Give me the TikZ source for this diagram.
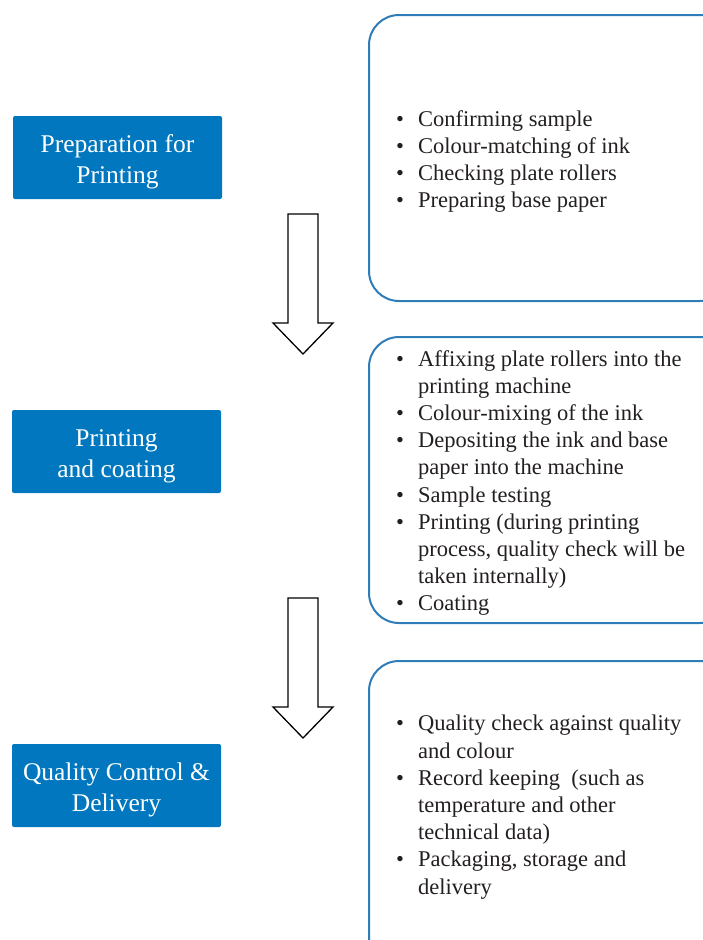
\documentclass[tikz,border=0pt]{standalone}
\usepackage{fontspec}
\setmainfont{Liberation Serif}
\definecolor{stepblue}{RGB}{0,119,190}
\definecolor{frameblue}{RGB}{46,125,184}
\definecolor{inktext}{RGB}{35,31,32}
% bullet line and continuation line of a list entry
\newcommand{\bul}[1]{\makebox[22pt][l]{\textbullet}#1}
\newcommand{\cont}[1]{\hspace*{22pt}#1}
\begin{document}
\begin{tikzpicture}[x=1pt,y=-1pt,
  stage/.style={fill=stepblue, rounded corners=2pt, minimum width=209pt,
    minimum height=83pt, inner sep=0pt},
  stagetext/.style={text=white, font=\fontsize{25.5}{31}\selectfont,
    align=center, inner sep=0pt},
  panel/.style={draw=frameblue, line width=2pt, rounded corners=30pt},
  items/.style={anchor=north west, inner sep=0pt, align=left, text=inktext,
    font=\fontsize{22.5}{27.2}\selectfont},
  blockarrow/.style={draw=black, line width=1.3pt, fill=white, line join=miter}]
\useasboundingbox (0,0) rectangle (703,940);
\clip (0,0) rectangle (703,940);

% process stages: blue box, then its caption set slightly low
\node[stage] (prep)  at (117.5,157.5) {};
\node[stage] (print) at (116.5,451.5) {};
\node[stage] (qc)    at (116.5,785.5) {};
\node[stagetext] (prepcap)  at ([yshift=-4pt]prep.center)  {Preparation for\\Printing};
\node[stagetext] (printcap) at ([yshift=-5pt]print.center) {Printing\\and coating};
\node[stagetext] (qccap)    at ([yshift=-4.5pt]qc.center)  {Quality Control \&\\Delivery};

% detail panels
\draw[panel] (369,15) rectangle (730,301);
\draw[panel] (369,337) rectangle (730,623);
\draw[panel] (369,661) rectangle (730,990);

% block arrows between stages
\draw[blockarrow] (288,214) -- (318,214) -- (318,323) -- (333,323) -- (303,354)
  -- (273,323) -- (288,323) -- cycle;
\draw[blockarrow] (288,598) -- (318,598) -- (318,707) -- (333,707) -- (303,738)
  -- (273,707) -- (288,707) -- cycle;

% panel contents
\node[items] (list1) at (396,110) {%
  \bul{Confirming sample}\\
  \bul{Colour-matching of ink}\\
  \bul{Checking plate rollers}\\
  \bul{Preparing base paper}};
\node[items] (list2) at (396,350) {%
  \bul{Affixing plate rollers into the}\\
  \cont{printing machine}\\
  \bul{Colour-mixing of the ink}\\
  \bul{Depositing the ink and base}\\
  \cont{paper into the machine}\\
  \bul{Sample testing}\\
  \bul{Printing (during printing}\\
  \cont{process, quality check will be}\\
  \cont{taken internally)}\\
  \bul{Coating}};
\node[items] (list3) at (396,715) {%
  \bul{Quality check against quality}\\
  \cont{and colour}\\
  \bul{Record keeping\ \ (such as}\\
  \cont{temperature and other}\\
  \cont{technical data)}\\
  \bul{Packaging, storage and}\\
  \cont{delivery}};
\end{tikzpicture}
\end{document}
